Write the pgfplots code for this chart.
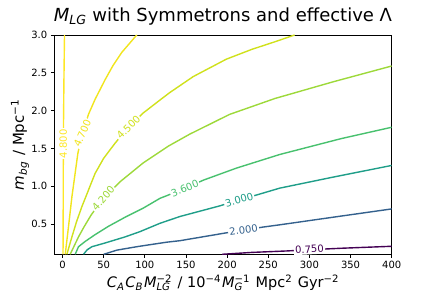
\documentclass[border=0pt]{standalone}
\usepackage{pgfplots}
\pgfplotsset{compat=1.18}
\usepackage{fontspec}
\setmainfont{DejaVu Sans}
\definecolor{cA}{HTML}{440154}
\definecolor{cB}{HTML}{34618D}
\definecolor{cC}{HTML}{1F9E89}
\definecolor{cD}{HTML}{48C16E}
\definecolor{cE}{HTML}{9DD93A}
\definecolor{cF}{HTML}{D0E11C}
\definecolor{cG}{HTML}{F1E51D}
\definecolor{cH}{HTML}{FDE725}
\newcommand{\ssp}[2]{\rlap{\textsubscript{\textit{#1}}}\textsuperscript{#2}\kern1pt\relax}
\newcommand{\sbs}[1]{\textsubscript{\textit{#1}}\kern1pt\relax}
\newcommand{\sps}[1]{\textsuperscript{#1}\kern1pt\relax}
\tikzset{clab/.style={fill=white, inner sep=1.2pt, font=\fontsize{10}{12}\selectfont}}
\begin{document}
\begin{tikzpicture}
\useasboundingbox (-54.3pt,-36.7pt) rectangle (381.7pt,254.3pt);
\begin{axis}[
  scale only axis, width=337.4pt, height=219.3pt,
  xmin=-10, xmax=400, ymin=0.1, ymax=3.0,
  xtick={0,50,100,150,200,250,300,350,400},
  ytick={0.5,1,1.5,2,2.5,3},
  tick pos=left, tick align=outside, major tick length=3.5pt,
  every tick/.style={black, line width=0.8pt},
  axis line style={line width=0.8pt},
  ticklabel style={font=\fontsize{10}{12}\selectfont},
  /pgf/number format/assume math mode=true,
  yticklabel style={/pgf/number format/fixed, /pgf/number format/fixed zerofill, /pgf/number format/precision=1},
  title={\textit{M}\textsubscript{\textit{LG}} with Symmetrons and effective Λ},
  title style={at={(axis description cs:0.5,1)}, anchor=base, yshift=7.5pt, font=\fontsize{18}{21}\selectfont},
  xlabel={\textit{C}\sbs{A}\textit{C}\sbs{B}\textit{M}\ssp{LG}{−2} / 10\sps{−4}\textit{M}\ssp{G}{−1} Mpc\sps{2} Gyr\textsuperscript{−2}},
  xlabel style={at={(axis description cs:0.5,-0.153)}, anchor=base, font=\fontsize{14.5}{17}\selectfont},
  ylabel={\textit{m}\sbs{bg} / Mpc\textsuperscript{−1}},
  ylabel style={at={(axis description cs:-0.1017,0.5)}, anchor=center, font=\fontsize{15}{18}\selectfont},
  every axis plot/.append style={line width=1.4pt},
]
\addplot[cH] coordinates {(0.6,0.1) (0.8,0.6) (0.9,1.2) (1.2,1.84) (1.7,2.4) (2.4,3.0)};
\addplot[cG] coordinates {(3.3,0.1) (7.3,0.47) (11.4,0.86) (18.7,1.44) (24.5,1.7) (31.5,1.95) (39.6,2.15) (51.8,2.41) (61,2.59) (72,2.77) (90.2,3.0)};
\addplot[cF] coordinates {(5.3,0.1) (11.4,0.33) (17,0.53) (23.5,0.73) (39.6,1.17) (50,1.37) (63.9,1.57) (80,1.78) (98.2,1.97) (118.4,2.14) (130.5,2.24) (158.8,2.45) (199,2.68) (230,2.81) (258,2.91) (282,3.0)};
\addplot[cE] coordinates {(9.3,0.1) (19.4,0.33) (26,0.46) (34.8,0.62) (49.5,0.84) (70,1.06) (98.2,1.31) (128.5,1.53) (154.8,1.69) (203,1.95) (258,2.16) (328.5,2.38) (400,2.59)};
\addplot[cD] coordinates {(15.4,0.1) (19.4,0.2) (27.5,0.27) (39.6,0.36) (55.8,0.47) (76,0.59) (98,0.71) (118.4,0.84) (148.7,0.97) (171,1.08) (211.4,1.24) (264,1.42) (338.7,1.63) (400,1.78)};
\addplot[cC] coordinates {(25.5,0.1) (30,0.16) (35.6,0.2) (51.8,0.25) (76,0.33) (94.2,0.4) (118.4,0.51) (142.7,0.6) (191,0.74) (214.6,0.82) (237.6,0.89) (264,0.975) (328.5,1.12) (400,1.275)};
\addplot[cB] coordinates {(50,0.1) (66,0.155) (90,0.2) (102,0.22) (126.5,0.26) (142.7,0.28) (197,0.38) (220,0.42) (243.6,0.46) (264,0.49) (328.5,0.59) (400,0.70)};
\addplot[cA] coordinates {(194,0.1) (230,0.125) (272,0.144) (300,0.16) (338.7,0.18) (400,0.206)};
\node[clab, text=cH, rotate=90] at (axis cs:0.8,1.56) {4.800};
\node[clab, text=cG, rotate=66] at (axis cs:24,1.70) {4.700};
\node[clab, text=cF, rotate=45] at (axis cs:80,1.78) {4.500};
\node[clab, text=cE, rotate=49] at (axis cs:49.5,0.84) {4.200};
\node[clab, text=cD, rotate=22] at (axis cs:148.7,0.97) {3.600};
\node[clab, text=cC, rotate=16] at (axis cs:214.6,0.82) {3.000};
\node[clab, text=cB, rotate=8] at (axis cs:220,0.42) {2.000};
\node[clab, text=cA, rotate=3] at (axis cs:300,0.165) {0.750};
\end{axis}
\end{tikzpicture}
\end{document}
